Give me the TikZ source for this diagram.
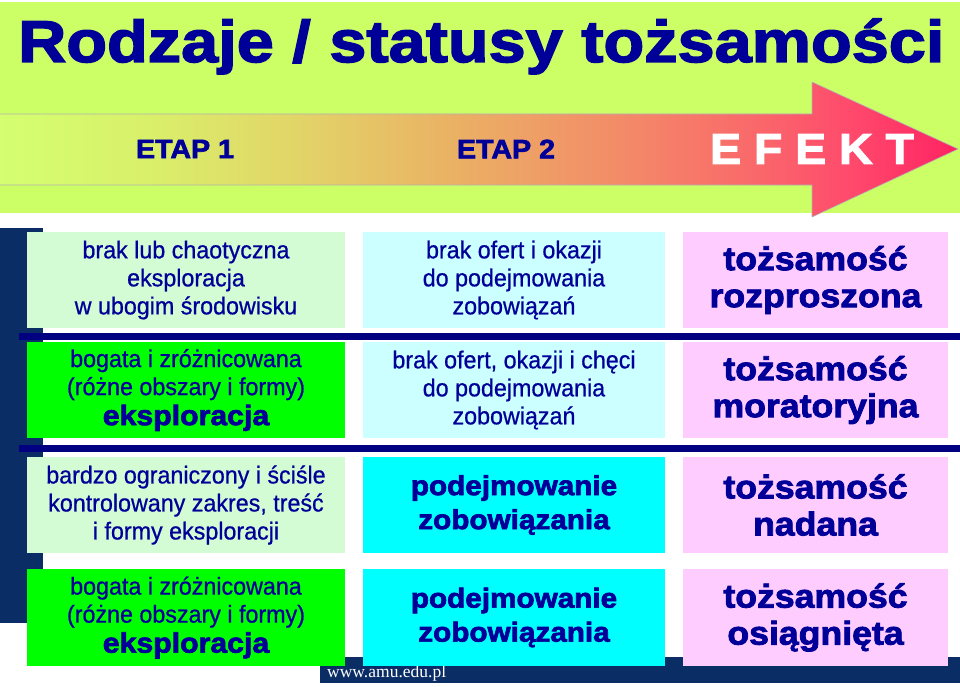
\documentclass[tikz,border=0pt]{standalone}
\usepackage{fontspec}
\setmainfont{Liberation Sans}[FakeBold=0.7,FakeStretch=0.95]
\newfontfamily\heavyfont[FakeBold=2.5,FakeStretch=1.08]{Liberation Sans Bold}
\newfontfamily\titlefont[FakeBold=2.5,FakeStretch=1.13]{Liberation Sans Bold}
\newfontfamily\wwwfont{Liberation Serif}

\definecolor{bgtop}{HTML}{CCFF66}
\definecolor{navytext}{HTML}{000099}
\definecolor{navybar}{HTML}{0B2D66}
\definecolor{navyline}{HTML}{000080}
\definecolor{palegreen}{HTML}{D4FCD4}
\definecolor{brightgreen}{HTML}{00FF00}
\definecolor{palecyan}{HTML}{CCFFFF}
\definecolor{brightcyan}{HTML}{00FFFF}
\definecolor{palepink}{HTML}{FFCCFF}

\definecolor{arr0}{HTML}{D4FF70}
\definecolor{arr1}{HTML}{D9F06A}
\definecolor{arr2}{HTML}{E2D468}
\definecolor{arr3}{HTML}{EAB264}
\definecolor{arr4}{HTML}{F29068}
\definecolor{arr5}{HTML}{F96A6A}
\definecolor{arr6}{HTML}{FF4A6C}
\definecolor{arr7}{HTML}{FF2262}
\pgfdeclarehorizontalshading{efektshade}{100bp}{color(0bp)=(arr0); color(25bp)=(arr0);
  color(32.8bp)=(arr1); color(40.7bp)=(arr2); color(48.5bp)=(arr3); color(56.3bp)=(arr4);
  color(64.1bp)=(arr5); color(69.4bp)=(arr6); color(75bp)=(arr7); color(100bp)=(arr7)}

\newcommand{\hvword}[1]{{\heavyfont\fontsize{28}{30}\selectfont #1}}

\tikzset{cell/.style={anchor=north west, inner sep=0pt, outer sep=0pt, minimum height=96pt, align=center, text=navytext},
colA/.style={cell, minimum width=318pt},
colB/.style={cell, minimum width=302pt},
colC/.style={cell, minimum width=265pt},
plain/.style={font=\fontsize{24.5}{28}\selectfont},
heavyB/.style={font=\heavyfont\fontsize{27.5}{34}\selectfont},
heavyC/.style={font=\heavyfont\fontsize{33}{37}\selectfont},
titletext/.style={text=navytext, inner sep=0pt, font=\titlefont\fontsize{59}{60}\selectfont},
etap/.style={text=navytext, inner sep=0pt, font=\heavyfont\fontsize{26.5}{27}\selectfont},
efekt/.style={text=white, inner sep=0pt, font=\heavyfont\fontsize{43}{44}\selectfont},
wwwtext/.style={text=white, inner sep=0pt, font=\wwwfont\fontsize{17.5}{18}\selectfont},
arrowline/.style={draw=gray!60, line width=0.6pt}}

\begin{document}
\begin{tikzpicture}[x=1pt,y=-1pt]
\useasboundingbox (0,0) rectangle (960,687);

% green head band
\fill[bgtop] (0,2) rectangle (960,213);

\coordinate (a0) at (-2,114);
\coordinate (a1) at (812,114);
\coordinate (a2) at (812,82);
\coordinate (a3) at (958,149);
\coordinate (a4) at (812,217);
\coordinate (a5) at (812,185);
\coordinate (a6) at (-2,185);
\draw[arrowline, shading=efektshade] (a0) -- (a1) -- (a2) -- (a3) -- (a4) -- (a5) -- (a6) -- cycle;

\node[titletext, anchor=base west] (title) at (18,62) {Rodzaje / statusy tożsamości};
\node[etap] (etap1) at (185,149) {ETAP 1};
\node[etap] (etap2) at (506,149) {ETAP 2};
\node[efekt] (efekt) at (812,149) {E F E K T};

% navy frame
\fill[navybar] (0,228) rectangle (43,623);
\foreach \y in {333,445}
    \fill[navyline] (19,\y) rectangle (960,\y+6.5);
\fill[navybar] (320,657) rectangle (960,683);
\node[wwwtext, anchor=base west] (www) at (327,677) {www.amu.edu.pl};

% column 1
\node[colA, plain, fill=palegreen] (a1) at (27,232) {brak lub chaotyczna\\eksploracja\\w ubogim środowisku};
\node[colA, plain, fill=brightgreen] (a2) at (27,342) {bogata i zróżnicowana\\(różne obszary i formy)\\[2pt]\hvword{eksploracja}};
\node[colA, plain, fill=palegreen] (a3) at (27,457) {bardzo ograniczony i ściśle\\kontrolowany zakres, treść\\i formy eksploracji};
\node[colA, plain, fill=brightgreen, minimum height=97pt] (a4) at (27,569) {bogata i zróżnicowana\\(różne obszary i formy)\\[2pt]\hvword{eksploracja}};

% column 2
\node[colB, plain, fill=palecyan] (b1) at (363,232) {brak ofert i okazji\\do podejmowania\\zobowiązań};
\node[colB, plain, fill=palecyan] (b2) at (363,342) {brak ofert, okazji i chęci\\do podejmowania\\zobowiązań};
\node[colB, heavyB, fill=brightcyan] (b3) at (363,457) {podejmowanie\\zobowiązania};
\node[colB, heavyB, fill=brightcyan, minimum height=97pt] (b4) at (363,569) {podejmowanie\\zobowiązania};

% column 3
\node[colC, heavyC, fill=palepink] (c1) at (683,232) {tożsamość\\rozproszona};
\node[colC, heavyC, fill=palepink] (c2) at (683,342) {tożsamość\\moratoryjna};
\node[colC, heavyC, fill=palepink] (c3) at (683,457) {tożsamość\\nadana};
\node[colC, heavyC, fill=palepink, minimum height=97pt] (c4) at (683,569) {tożsamość\\osiągnięta};

\end{tikzpicture}
\end{document}
